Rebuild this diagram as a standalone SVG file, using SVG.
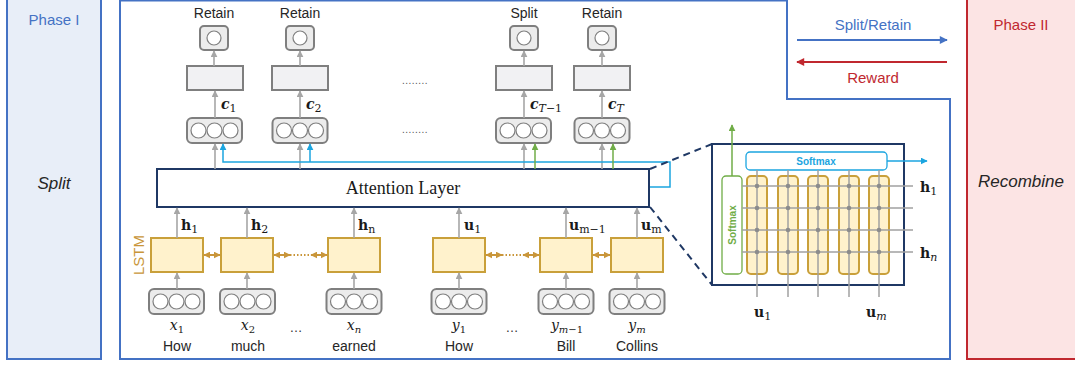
<svg xmlns="http://www.w3.org/2000/svg" width="1075" height="367" viewBox="0 0 1075 367">
<defs>
<style>
.sans{font-family:"Liberation Sans","DejaVu Sans",sans-serif}
.lbl{font-family:"Liberation Sans",sans-serif;font-size:14px;fill:#262626;text-anchor:middle}
.obox{fill:#ececec;stroke:#7f7f7f;stroke-width:2}
.orect{fill:#f1f1f3;stroke:#7f7f7f;stroke-width:2}
.circ{fill:#fff;stroke:#7f7f7f;stroke-width:1.2}
.lstm{fill:#fff2cc;stroke:#c9a03a;stroke-width:2}
.g{stroke:#a6a6a6;stroke-width:1.6;fill:none}
.b{stroke:#1ba5e0;stroke-width:1.5;fill:none}
.gr{stroke:#70ad47;stroke-width:1.5;fill:none}
.gold{stroke:#c9963a;stroke-width:2;fill:none}
.math{font-family:"DejaVu Serif","Liberation Serif",serif;font-size:14px;fill:#1a1a1a}
.sub{font-weight:normal;font-size:11px}
</style>
<marker id="ag" viewBox="0 0 10 10" refX="9" refY="5" markerWidth="7" markerHeight="7" markerUnits="userSpaceOnUse" orient="auto"><path d="M0,0L10,5L0,10z" fill="#a6a6a6"/></marker>
<marker id="ab" viewBox="0 0 10 10" refX="9" refY="5" markerWidth="7" markerHeight="7" markerUnits="userSpaceOnUse" orient="auto"><path d="M0,0L10,5L0,10z" fill="#1ba5e0"/></marker>
<marker id="agr" viewBox="0 0 10 10" refX="9" refY="5" markerWidth="7" markerHeight="7" markerUnits="userSpaceOnUse" orient="auto"><path d="M0,0L10,5L0,10z" fill="#70ad47"/></marker>
<marker id="ago" viewBox="0 0 10 10" refX="9" refY="5" markerWidth="7" markerHeight="7" markerUnits="userSpaceOnUse" orient="auto-start-reverse"><path d="M0,0L10,5L0,10z" fill="#c9963a"/></marker>
<marker id="abl" viewBox="0 0 10 10" refX="9" refY="5" markerWidth="11" markerHeight="8" markerUnits="userSpaceOnUse" orient="auto"><path d="M0,0L10,5L0,10z" fill="#4472c4"/></marker>
<marker id="ar" viewBox="0 0 10 10" refX="9" refY="5" markerWidth="11" markerHeight="8" markerUnits="userSpaceOnUse" orient="auto"><path d="M0,0L10,5L0,10z" fill="#c0282f"/></marker>
<g id="cb3">
<rect x="-27.5" y="0" width="55" height="25" rx="5" class="obox"/>
<circle cx="-16" cy="12.5" r="7.5" class="circ"/><circle cx="0" cy="12.5" r="7.5" class="circ"/><circle cx="16" cy="12.5" r="7.5" class="circ"/>
</g>
<g id="cb1">
<rect x="-14" y="0" width="28" height="24" rx="4" class="obox"/>
<circle cx="0" cy="12" r="7" class="circ"/>
</g>
</defs>
<rect width="1075" height="367" fill="#fff"/>

<g id="phase1">
<rect x="7" y="-2" width="94" height="361" fill="#e8eef8" stroke="#4472c4" stroke-width="2"/>
<text x="54" y="25" class="sans" font-size="15" fill="#4472c4" text-anchor="middle">Phase I</text>
<text x="54" y="189" class="sans" font-size="17" font-style="italic" fill="#262626" text-anchor="middle">Split</text>
</g>

<g id="phase2">
<rect x="967" y="-2" width="110" height="361" fill="#fce4e4" stroke="#c0282f" stroke-width="2"/>
<text x="1021" y="30" class="sans" font-size="15" fill="#c0282f" text-anchor="middle">Phase II</text>
<text x="1021" y="187" class="sans" font-size="17" font-style="italic" fill="#262626" text-anchor="middle">Recombine</text>
</g>

<g id="main">
<path d="M120,0.5 H787 V99 H950 V359 H120 Z" fill="none" stroke="#4472c4" stroke-width="2"/>
</g>

<g id="signals">
<line x1="797" y1="40" x2="947" y2="40" stroke="#4472c4" stroke-width="2" marker-end="url(#abl)"/>
<text x="873" y="30" class="sans" font-size="15" fill="#4472c4" text-anchor="middle">Split/Retain</text>
<line x1="947" y1="62" x2="797" y2="62" stroke="#c0282f" stroke-width="2" marker-end="url(#ar)"/>
<text x="873" y="83" class="sans" font-size="15" fill="#c0282f" text-anchor="middle">Reward</text>
</g>

<g id="outputs">
<text x="214" y="18" class="lbl">Retain</text>
<text x="300" y="18" class="lbl">Retain</text>
<text x="524" y="18" class="lbl">Split</text>
<text x="602" y="18" class="lbl">Retain</text>
<use href="#cb1" x="214" y="26"/><use href="#cb1" x="300" y="26"/><use href="#cb1" x="524" y="26"/><use href="#cb1" x="602" y="26"/>
<rect x="187" y="66" width="56" height="24" class="orect"/>
<rect x="272" y="66" width="56" height="24" class="orect"/>
<rect x="496" y="66" width="56" height="24" class="orect"/>
<rect x="574" y="66" width="56" height="24" class="orect"/>
<use href="#cb3" x="214.5" y="118"/><use href="#cb3" x="300" y="118"/><use href="#cb3" x="523.5" y="118"/><use href="#cb3" x="602" y="118"/>
<text x="415" y="84" class="sans" font-size="10" fill="#555" text-anchor="middle" letter-spacing="0.5">........</text>
<text x="415" y="133" class="sans" font-size="10" fill="#555" text-anchor="middle" letter-spacing="0.5">........</text>
<text x="221" y="109" class="math" font-size="15" font-weight="bold" font-style="italic">c<tspan class="sub" font-style="normal" dy="3">1</tspan></text>
<text x="306" y="109" class="math" font-size="15" font-weight="bold" font-style="italic">c<tspan class="sub" font-style="normal" dy="3">2</tspan></text>
<text x="530" y="109" class="math" font-size="15" font-weight="bold" font-style="italic">c<tspan class="sub" dy="3">T</tspan><tspan class="sub" font-style="normal">−1</tspan></text>
<text x="608" y="109" class="math" font-size="15" font-weight="bold" font-style="italic">c<tspan class="sub" dy="3">T</tspan></text>
</g>

<g id="attention">
<rect x="157" y="169" width="492" height="38" fill="#fff" stroke="#1f3864" stroke-width="2"/>
<text x="403" y="194" font-family="'Liberation Serif',serif" font-size="18" fill="#1a1a1a" text-anchor="middle">Attention Layer</text>
</g>

<g id="lstm">
<text transform="translate(144,255) rotate(-90)" class="sans" font-size="15" fill="#c9963a" text-anchor="middle">LSTM</text>
<rect x="151" y="238" width="52" height="34" class="lstm"/>
<rect x="221" y="238" width="52" height="34" class="lstm"/>
<rect x="328" y="238" width="52" height="34" class="lstm"/>
<rect x="433" y="238" width="52" height="34" class="lstm"/>
<rect x="540" y="238" width="52" height="34" class="lstm"/>
<rect x="611" y="238" width="52" height="34" class="lstm"/>
<text x="181" y="230" class="math" font-size="15" font-weight="bold">h<tspan class="sub" dy="3">1</tspan></text>
<text x="251" y="230" class="math" font-size="15" font-weight="bold">h<tspan class="sub" dy="3">2</tspan></text>
<text x="358" y="230" class="math" font-size="15" font-weight="bold">h<tspan class="sub" dy="3">n</tspan></text>
<text x="464" y="230" class="math" font-size="15" font-weight="bold">u<tspan class="sub" dy="3">1</tspan></text>
<text x="569" y="230" class="math" font-size="15" font-weight="bold">u<tspan class="sub" dy="3">m−1</tspan></text>
<text x="641" y="230" class="math" font-size="15" font-weight="bold">u<tspan class="sub" dy="3">m</tspan></text>
</g>

<g id="inputs">
<use href="#cb3" x="176.5" y="289"/><use href="#cb3" x="247.5" y="289"/><use href="#cb3" x="354" y="289"/><use href="#cb3" x="459" y="289"/><use href="#cb3" x="566" y="289"/><use href="#cb3" x="637" y="289"/>
<text x="177" y="330" class="math" font-size="15" font-style="italic" text-anchor="middle">x<tspan font-size="10" font-style="normal" dy="3">1</tspan></text>
<text x="248" y="330" class="math" font-size="15" font-style="italic" text-anchor="middle">x<tspan font-size="10" font-style="normal" dy="3">2</tspan></text>
<text x="354" y="330" class="math" font-size="15" font-style="italic" text-anchor="middle">x<tspan font-size="10" dy="3">n</tspan></text>
<text x="459" y="330" class="math" font-size="15" font-style="italic" text-anchor="middle">y<tspan font-size="10" font-style="normal" dy="3">1</tspan></text>
<text x="567" y="330" class="math" font-size="15" font-style="italic" text-anchor="middle">y<tspan font-size="10" dy="3">m</tspan><tspan font-size="10" font-style="normal">−1</tspan></text>
<text x="637" y="330" class="math" font-size="15" font-style="italic" text-anchor="middle">y<tspan font-size="10" dy="3">m</tspan></text>
<text x="296" y="332" class="sans" font-size="13" fill="#333" text-anchor="middle">…</text>
<text x="512" y="332" class="sans" font-size="13" fill="#333" text-anchor="middle">…</text>
<text x="177" y="351" class="lbl">How</text>
<text x="248" y="351" class="lbl">much</text>
<text x="354" y="351" class="lbl">earned</text>
<text x="459" y="351" class="lbl">How</text>
<text x="566" y="351" class="lbl">Bill</text>
<text x="637" y="351" class="lbl">Collins</text>
</g>

<g id="zoom-box">
<rect x="712" y="144" width="192" height="141" fill="#fff" stroke="#1f3864" stroke-width="2"/>
<rect x="747" y="176" width="20" height="98" rx="4" class="lstm" stroke-width="1.2"/>
<rect x="778" y="176" width="20" height="98" rx="4" class="lstm" stroke-width="1.2"/>
<rect x="808" y="176" width="20" height="98" rx="4" class="lstm" stroke-width="1.2"/>
<rect x="839" y="176" width="20" height="98" rx="4" class="lstm" stroke-width="1.2"/>
<rect x="869" y="176" width="20" height="98" rx="4" class="lstm" stroke-width="1.2"/>
<rect x="722" y="176" width="20" height="98" rx="4" fill="#fff" stroke="#70ad47" stroke-width="1.3"/>
<text transform="translate(736,225) rotate(-90)" class="sans" font-size="10" font-weight="bold" fill="#70ad47" text-anchor="middle">Softmax</text>
<rect x="746" y="152" width="141" height="18" rx="4" fill="#fff" stroke="#1ba5e0" stroke-width="1.3"/>
<text x="816" y="165" class="sans" font-size="10" font-weight="bold" fill="#1ba5e0" text-anchor="middle">Softmax</text>
<g stroke="#a0a0a0" stroke-width="1.5">
<line x1="742" y1="186" x2="913" y2="186"/><line x1="742" y1="208" x2="913" y2="208"/><line x1="742" y1="230" x2="913" y2="230"/><line x1="742" y1="252" x2="913" y2="252"/>
<line x1="757" y1="170" x2="757" y2="297"/><line x1="788" y1="170" x2="788" y2="297"/><line x1="818" y1="170" x2="818" y2="297"/><line x1="849" y1="170" x2="849" y2="297"/><line x1="879" y1="170" x2="879" y2="297"/>
</g>
<g fill="#8c8c8c">
<circle cx="757" cy="186" r="2.3"/><circle cx="788" cy="186" r="2.3"/><circle cx="818" cy="186" r="2.3"/><circle cx="849" cy="186" r="2.3"/><circle cx="879" cy="186" r="2.3"/>
<circle cx="757" cy="208" r="2.3"/><circle cx="788" cy="208" r="2.3"/><circle cx="818" cy="208" r="2.3"/><circle cx="849" cy="208" r="2.3"/><circle cx="879" cy="208" r="2.3"/>
<circle cx="757" cy="230" r="2.3"/><circle cx="788" cy="230" r="2.3"/><circle cx="818" cy="230" r="2.3"/><circle cx="849" cy="230" r="2.3"/><circle cx="879" cy="230" r="2.3"/>
<circle cx="757" cy="252" r="2.3"/><circle cx="788" cy="252" r="2.3"/><circle cx="818" cy="252" r="2.3"/><circle cx="849" cy="252" r="2.3"/><circle cx="879" cy="252" r="2.3"/>
</g>
<text x="920" y="192" class="math" font-size="16" font-weight="bold">h<tspan class="sub" dy="3">1</tspan></text>
<text x="920" y="258" class="math" font-size="16" font-weight="bold">h<tspan class="sub" font-style="italic" dy="3">n</tspan></text>
<text x="754" y="317" class="math" font-size="16" font-weight="bold">u<tspan class="sub" dy="3">1</tspan></text>
<text x="866" y="317" class="math" font-size="16" font-weight="bold">u<tspan class="sub" font-style="italic" dy="3">m</tspan></text>
</g>

<g id="connectors">
<line x1="214" y1="66" x2="214" y2="51" class="g" marker-end="url(#ag)"/>
<line x1="300" y1="66" x2="300" y2="51" class="g" marker-end="url(#ag)"/>
<line x1="524" y1="66" x2="524" y2="51" class="g" marker-end="url(#ag)"/>
<line x1="602" y1="66" x2="602" y2="51" class="g" marker-end="url(#ag)"/>
<line x1="215" y1="118" x2="215" y2="91" class="g" marker-end="url(#ag)"/>
<line x1="300" y1="118" x2="300" y2="91" class="g" marker-end="url(#ag)"/>
<line x1="524" y1="118" x2="524" y2="91" class="g" marker-end="url(#ag)"/>
<line x1="602" y1="118" x2="602" y2="91" class="g" marker-end="url(#ag)"/>
<line x1="215" y1="169" x2="215" y2="144" class="g" marker-end="url(#ag)"/>
<line x1="300" y1="169" x2="300" y2="144" class="g" marker-end="url(#ag)"/>
<line x1="524" y1="169" x2="524" y2="144" class="g" marker-end="url(#ag)"/>
<line x1="602" y1="169" x2="602" y2="144" class="g" marker-end="url(#ag)"/>
<path d="M650,187 H670 V162 H223 V144" class="b" marker-end="url(#ab)"/>
<line x1="310" y1="162" x2="310" y2="144" class="b" marker-end="url(#ab)"/>
<line x1="535" y1="169" x2="535" y2="144" class="gr" marker-end="url(#agr)"/>
<line x1="613" y1="169" x2="613" y2="144" class="gr" marker-end="url(#agr)"/>
<line x1="177" y1="238" x2="177" y2="208" class="g" marker-end="url(#ag)"/>
<line x1="247" y1="238" x2="247" y2="208" class="g" marker-end="url(#ag)"/>
<line x1="354" y1="238" x2="354" y2="208" class="g" marker-end="url(#ag)"/>
<line x1="459" y1="238" x2="459" y2="208" class="g" marker-end="url(#ag)"/>
<line x1="566" y1="238" x2="566" y2="208" class="g" marker-end="url(#ag)"/>
<line x1="637" y1="238" x2="637" y2="208" class="g" marker-end="url(#ag)"/>
<line x1="177" y1="289" x2="177" y2="273" class="g" marker-end="url(#ag)"/>
<line x1="247" y1="289" x2="247" y2="273" class="g" marker-end="url(#ag)"/>
<line x1="354" y1="289" x2="354" y2="273" class="g" marker-end="url(#ag)"/>
<line x1="459" y1="289" x2="459" y2="273" class="g" marker-end="url(#ag)"/>
<line x1="566" y1="289" x2="566" y2="273" class="g" marker-end="url(#ag)"/>
<line x1="637" y1="289" x2="637" y2="273" class="g" marker-end="url(#ag)"/>
<line x1="204" y1="255" x2="220" y2="255" class="gold" marker-start="url(#ago)" marker-end="url(#ago)"/>
<line x1="593" y1="255" x2="610" y2="255" class="gold" marker-start="url(#ago)" marker-end="url(#ago)"/>
<line x1="274" y1="255" x2="290" y2="255" class="gold" marker-start="url(#ago)" marker-end="url(#ago)"/>
<line x1="290" y1="255" x2="311" y2="255" class="gold" stroke-dasharray="1.5 2"/>
<line x1="311" y1="255" x2="327" y2="255" class="gold" marker-start="url(#ago)" marker-end="url(#ago)"/>
<line x1="486" y1="255" x2="502" y2="255" class="gold" marker-start="url(#ago)" marker-end="url(#ago)"/>
<line x1="502" y1="255" x2="523" y2="255" class="gold" stroke-dasharray="1.5 2"/>
<line x1="523" y1="255" x2="539" y2="255" class="gold" marker-start="url(#ago)" marker-end="url(#ago)"/>
<line x1="732" y1="176" x2="732" y2="125" class="gr" marker-end="url(#agr)"/>
<line x1="887" y1="161" x2="927" y2="161" class="b" marker-end="url(#ab)"/>
<line x1="650" y1="169" x2="712" y2="144" stroke="#1f3864" stroke-width="2" stroke-dasharray="7 5"/>
<line x1="650" y1="207" x2="712" y2="285" stroke="#1f3864" stroke-width="2" stroke-dasharray="7 5"/>
</g>
</svg>
